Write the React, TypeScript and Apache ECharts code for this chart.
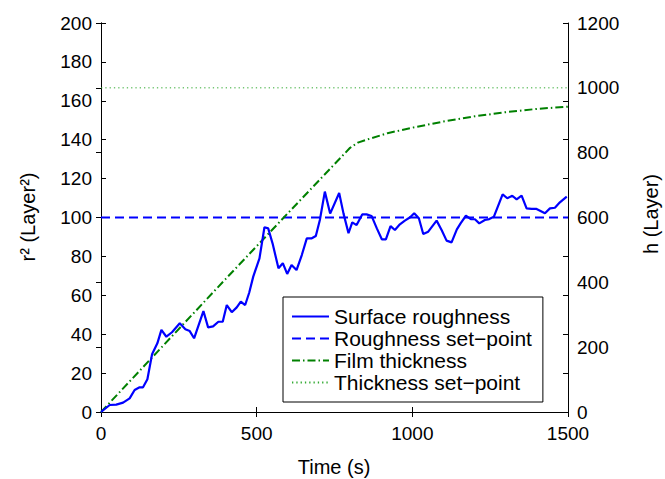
import React, { useEffect, useRef } from 'react';
import * as echarts from 'echarts';

// ---- Data ----
const timeMin = 0;
const timeMax = 1500;
const timeTickStep = 500;

const roughnessMax = 200;
const roughnessTickStep = 20;
const thicknessMax = 1200;
const thicknessTickStep = 200;

// Surface roughness r^2 (Layer^2) vs time (s)
const roughnessPoints: [number, number][] = [
  [0, 0], [28, 3.6], [49, 3.8], [71, 4.8], [92, 7], [108, 11.3], [124, 12.7], [135, 12.7],
  [149, 16.8], [164, 29.7], [181, 35.3], [194, 42.2], [210, 38.7], [228, 41], [253, 45.6],
  [271, 42.5], [285, 41.6], [299, 37.9], [329, 51.9], [344, 43.5], [360, 44], [377, 46.4],
  [391, 46.4], [404, 55], [420, 51.3], [436, 53.8], [449, 56.7], [463, 55], [476, 61.3],
  [489, 69.6], [509, 79], [525, 95], [537, 94.4], [551, 86.7], [570, 73.9], [584, 76.5],
  [598, 71], [612, 75.6], [628, 73], [645, 80.7], [661, 89.3], [677, 89.3], [690, 90.5],
  [703, 98.7], [719, 113.3], [736, 102], [765, 112.6], [779, 102], [795, 91.9], [807, 97.5],
  [821, 96.1], [839, 101.6], [853, 101.6], [869, 100.8], [886, 94.4], [902, 88.8], [915, 88.8],
  [930, 95.6], [944, 93.6], [960, 96.5], [976, 98.4], [993, 100.1], [1006, 102.2], [1021, 99.6],
  [1035, 91.5], [1051, 92.7], [1078, 98.4], [1094, 93.6], [1110, 88.1], [1126, 87.2],
  [1143, 93.9], [1155, 97], [1172, 100.9], [1188, 99.2], [1201, 99.1], [1215, 97], [1233, 98.7],
  [1247, 99.2], [1262, 100.4], [1290, 111.9], [1305, 109.9], [1321, 111.2], [1335, 109.3],
  [1351, 111.2], [1367, 104.7], [1383, 104.4], [1399, 104.4], [1426, 102.2], [1442, 104.7],
  [1458, 105], [1474, 107.8], [1496, 110.7],
];

// Film thickness h (Layer) vs time (s)
const thicknessPoints: [number, number][] = [
  [0, 0], [200, 205], [400, 410], [600, 613], [800, 815], [825, 831], [850, 839], [920, 860],
  [1000, 877], [1100, 896], [1200, 912], [1300, 925], [1400, 935], [1500, 942],
];

const roughnessSetPoint = 100;
const thicknessSetPoint = 1000;

const seriesNames = [
  'Surface roughness',
  'Roughness set\u2212point',
  'Film thickness',
  'Thickness set\u2212point',
];

const FONT = "'Liberation Sans', Arial, Helvetica, sans-serif";

export default function App() {
  const ref = useRef<HTMLDivElement>(null);

  useEffect(() => {
    document.body.style.margin = '0';
    if (!ref.current) return;
    const chart = echarts.init(ref.current, null, { renderer: 'svg' });

    const axisLine = { show: true, lineStyle: { color: '#000', width: 1 } };
    const tick = { show: true, inside: true, length: 5, lineStyle: { color: '#000', width: 1 } };
    const label = {
      color: '#000', fontSize: 19, fontFamily: FONT,
      formatter: (v: number) => String(v),
    };

    chart.setOption({
      animation: false,
      backgroundColor: '#fff',
      grid: { left: 101, right: 97, top: 23, bottom: 67, containLabel: false },
      xAxis: [
        {
          type: 'value', position: 'bottom', min: timeMin, max: timeMax, interval: timeTickStep,
          axisLine, axisTick: tick, axisLabel: { ...label, margin: 12 }, splitLine: { show: false },
        },
        {
          type: 'value', position: 'top', min: timeMin, max: timeMax, interval: timeTickStep,
          axisLine, axisTick: tick, axisLabel: { show: false }, splitLine: { show: false },
        },
      ],
      yAxis: [
        {
          type: 'value', position: 'left', min: 0, max: roughnessMax, interval: roughnessTickStep,
          axisLine, axisTick: tick, axisLabel: { ...label, margin: 9 }, splitLine: { show: false },
        },
        {
          type: 'value', position: 'right', min: 0, max: thicknessMax, interval: thicknessTickStep,
          axisLine, axisTick: tick, axisLabel: { ...label, margin: 9 }, splitLine: { show: false },
        },
        {
          type: 'value', position: 'right', min: 0, max: roughnessMax, interval: roughnessTickStep,
          axisLine, axisTick: tick, axisLabel: { show: false }, splitLine: { show: false },
        },
      ],
      legend: {
        orient: 'vertical',
        left: 283,
        top: 297,
        data: seriesNames,
        itemWidth: 37,
        itemHeight: 14,
        itemGap: 1,
        itemTextGap: 2,
        padding: [9, 11, 9, 8],
        borderColor: '#000',
        borderWidth: 1,
        borderRadius: 0,
        backgroundColor: '#fff',
        itemStyle: { color: 'rgba(0,0,0,0)', borderWidth: 0, opacity: 0 },
        textStyle: { fontSize: 21, color: '#000', fontFamily: FONT },
      },
      series: [
        {
          name: seriesNames[0], type: 'line', xAxisIndex: 0, yAxisIndex: 0,
          data: roughnessPoints, symbol: 'none', showSymbol: false,
          lineStyle: { color: '#0000ff', width: 2.2 }, itemStyle: { color: '#0000ff' }, z: 4,
        },
        {
          name: seriesNames[1], type: 'line', xAxisIndex: 0, yAxisIndex: 0,
          data: [[timeMin, roughnessSetPoint], [timeMax, roughnessSetPoint]],
          symbol: 'none', showSymbol: false,
          lineStyle: { color: '#0000ff', width: 2, type: [9, 5] }, itemStyle: { color: '#0000ff' }, z: 3,
        },
        {
          name: seriesNames[2], type: 'line', xAxisIndex: 0, yAxisIndex: 1,
          data: thicknessPoints, symbol: 'none', showSymbol: false,
          lineStyle: { color: '#008000', width: 2, type: [8, 3, 1.5, 3] }, itemStyle: { color: '#008000' }, z: 3,
        },
        {
          name: seriesNames[3], type: 'line', xAxisIndex: 0, yAxisIndex: 1,
          data: [[timeMin, thicknessSetPoint], [timeMax, thicknessSetPoint]],
          symbol: 'none', showSymbol: false,
          lineStyle: { color: '#33aa33', width: 1, type: [1.3, 3] }, itemStyle: { color: '#33aa33' }, z: 2,
        },
      ],
      graphic: [
        {
          type: 'text', x: 334, y: 467,
          style: { text: 'Time (s)', fontSize: 20, fontFamily: FONT, fill: '#000', textAlign: 'center', textVerticalAlign: 'middle' },
        },
        {
          type: 'text', x: 28, y: 217, rotation: Math.PI / 2,
          style: { text: 'r\u00b2 (Layer\u00b2)', fontSize: 20, fontFamily: FONT, fill: '#000', textAlign: 'center', textVerticalAlign: 'middle' },
        },
        {
          type: 'text', x: 651, y: 214, rotation: Math.PI / 2,
          style: { text: 'h (Layer)', fontSize: 20, fontFamily: FONT, fill: '#000', textAlign: 'center', textVerticalAlign: 'middle' },
        },
      ],
    });

    return () => chart.dispose();
  }, []);

  return <div ref={ref} style={{ width: 665, height: 479 }} />;
}
